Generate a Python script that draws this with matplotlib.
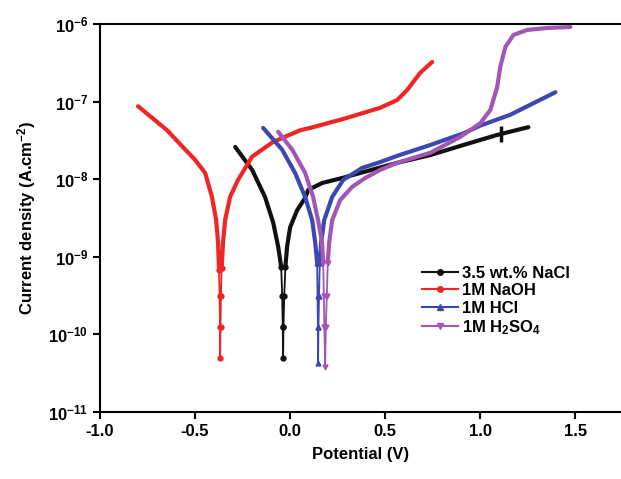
import numpy as np
import matplotlib
matplotlib.use("Agg")
import matplotlib.pyplot as plt
from matplotlib.lines import Line2D

plt.rcParams['font.family'] = ['Liberation Sans', 'DejaVu Sans']
plt.rcParams['font.weight'] = 'bold'
plt.rcParams['mathtext.fontset'] = 'custom'
plt.rcParams['mathtext.rm'] = 'Liberation Sans:bold'
plt.rcParams['mathtext.bf'] = 'Liberation Sans:bold'
plt.rcParams['mathtext.it'] = 'Liberation Sans:bold'
plt.rcParams['mathtext.default'] = 'bf'

labels = ['3.5 wt.% NaCl', '1M NaOH', '1M HCl', r'1M H$_2$SO$_4$']
colors = ['#111111', '#f02525', '#3a48b0', '#a456b4']
markers = ['o', 'o', '^', 'v']

# potential (V) and log10 current density (A/cm2)
nacl_E = [-0.289, -0.2, -0.132, -0.089, -0.063, -0.047, -0.042, -0.039, -0.037,
          -0.035, -0.031, -0.025, -0.016, 0.0, 0.037, 0.079, 0.095, 0.168, 0.274, 0.384,
          0.563, 0.737, 0.911, 1.089, 1.253]
nacl_logI = [-7.585, -7.88, -8.23, -8.56, -8.87, -9.13, -9.5, -9.9, -10.30,
             -9.9, -9.5, -9.13, -8.87, -8.62, -8.40, -8.24, -8.14, -8.05, -7.985, -7.91,
             -7.79, -7.69, -7.56, -7.43, -7.33]
nacl_tick_E = [1.11]
nacl_tick_logI = [-7.42]

naoh_E = [-0.80, -0.647, -0.563, -0.50, -0.447, -0.411, -0.389, -0.379, -0.374, -0.371,
          -0.369, -0.368, -0.366, -0.364, -0.360, -0.353, -0.342, -0.316, -0.274, -0.2,
          -0.089, 0.053, 0.121, 0.30, 0.474, 0.563, 0.616, 0.684, 0.747]
naoh_logI = [-7.06, -7.37, -7.59, -7.75, -7.92, -8.23, -8.53, -8.82, -9.17, -9.5,
             -9.9, -10.30, -9.9, -9.5, -9.15, -8.82, -8.53, -8.23, -8.01, -7.71,
             -7.52, -7.37, -7.33, -7.21, -7.08, -6.98, -6.85, -6.63, -6.49]

hcl_E = [-0.142, -0.042, 0.026, 0.079, 0.116, 0.132, 0.142, 0.144, 0.146, 0.147,
         0.149, 0.152, 0.156, 0.163, 0.179, 0.221, 0.279, 0.379, 0.474, 0.563,
         0.737, 0.911, 1.0, 1.158, 1.395]
hcl_logI = [-7.34, -7.62, -7.92, -8.23, -8.53, -8.82, -9.08, -9.5, -9.9, -10.37,
            -9.9, -9.5, -9.08, -8.82, -8.53, -8.23, -8.01, -7.855, -7.78, -7.70,
            -7.56, -7.41, -7.31, -7.17, -6.88]

h2so4_E = [-0.063, 0.011, 0.079, 0.121, 0.147, 0.168, 0.174, 0.177, 0.180, 0.184,
           0.188, 0.193, 0.198, 0.205, 0.221, 0.263, 0.326, 0.395, 0.474, 0.563,
           0.737, 0.895, 1.0, 1.053, 1.089, 1.105, 1.132, 1.174, 1.247, 1.353, 1.474]
h2so4_logI = [-7.39, -7.62, -7.92, -8.23, -8.53, -8.82, -9.08, -9.5, -9.9, -10.42,
              -9.9, -9.5, -9.08, -8.82, -8.53, -8.27, -8.10, -7.985, -7.88, -7.79,
              -7.66, -7.456, -7.28, -7.108, -6.812, -6.554, -6.296, -6.142, -6.077, -6.052, -6.039]

series = [(nacl_E, nacl_logI), (naoh_E, naoh_logI), (hcl_E, hcl_logI), (h2so4_E, h2so4_logI)]

fig = plt.figure(figsize=(6.21, 4.79), dpi=100)
ax = fig.add_axes([0.161, 0.14, 0.839, 0.81])

for (E, L), c, m in zip(series, colors, markers):
    E = np.array(E)
    L = np.array(L)
    I = 10.0 ** L
    thick = np.where(L >= -9.2, I, np.nan)
    thin = np.where(L <= -9.0, I, np.nan)
    ax.plot(E, thick, color=c, lw=3.0, solid_capstyle='round', solid_joinstyle='round', zorder=3)
    ax.plot(E, thin, color=c, lw=1.3, marker=m, ms=3.5, zorder=3)

ax.plot(nacl_tick_E, 10.0 ** np.array(nacl_tick_logI), color=colors[0], marker='|',
        ms=12, mew=2.5, ls='none', zorder=4)

ax.set_yscale('log')
ax.set_xlim(-1.0, 1.74)
ax.set_ylim(1e-11, 1e-6)
ax.set_xticks([-1.0, -0.5, 0.0, 0.5, 1.0, 1.5])
ax.set_xticklabels(['-1.0', '-0.5', '0.0', '0.5', '1.0', '1.5'])
ax.set_yticks([1e-11, 1e-10, 1e-9, 1e-8, 1e-7, 1e-6])
ax.set_yticklabels([r'$10^{-11}$', r'$10^{-10}$', r'$10^{-9}$', r'$10^{-8}$', r'$10^{-7}$', r'$10^{-6}$'])
ax.minorticks_off()
ax.tick_params(axis='both', direction='out', length=5, width=1.5, labelsize=12)
for s in ['left', 'bottom', 'top']:
    ax.spines[s].set_linewidth(1.5)
ax.spines['right'].set_visible(False)
ax.tick_params(top=False, right=False)

ax.set_xlabel('Potential (V)', fontsize=12, fontweight='bold', labelpad=6)
ax.set_ylabel(r'Current density (A.cm$^{-2}$)', fontsize=12, fontweight='bold', labelpad=7)

handles = [Line2D([0], [0], color=c, lw=1.5, marker=m, ms=4) for c, m in zip(colors, markers)]
ax.legend(handles, labels, loc='lower right', bbox_to_anchor=(0.93, 0.155), frameon=False,
          prop={'weight': 'bold', 'size': 12}, handlelength=2.2, handletextpad=0.2,
          labelspacing=0.15)

fig.savefig('out.png', dpi=100)
